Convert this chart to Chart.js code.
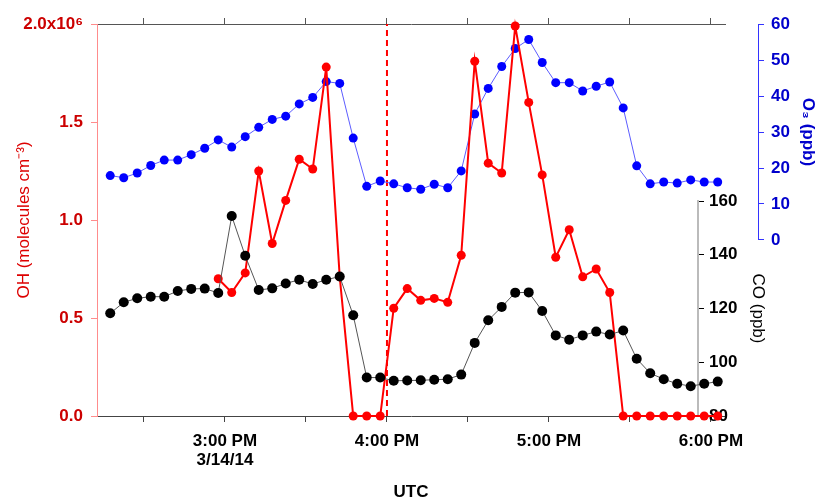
<!DOCTYPE html>
<html lang="en">
<head>
<meta charset="UTF-8">
<title>OH, O3 and CO - 3/14/14</title>
<script src="https://cdn.jsdelivr.net/npm/chart.js"></script>
<style>
    body { margin: 0; background: #ffffff; }
    #wrap { width: 818px; height: 502px; }
</style>
</head>
<body>
<div id="wrap"><canvas id="chart"></canvas></div>
<script>
    // sample times (UTC, 3/14/14), 5 minute averages
    const sampleTimes = [
        '14:17:30', '14:22:30', '14:27:30', '14:32:30', '14:37:30', '14:42:30', '14:47:30', '14:52:30',
        '14:57:30', '15:02:30', '15:07:30', '15:12:30', '15:17:30', '15:22:30', '15:27:30', '15:32:30',
        '15:37:30', '15:42:30', '15:47:30', '15:52:30', '15:57:30', '16:02:30', '16:07:30', '16:12:30',
        '16:17:30', '16:22:30', '16:27:30', '16:32:30', '16:37:30', '16:42:30', '16:47:30', '16:52:30',
        '16:57:30', '17:02:30', '17:07:30', '17:12:30', '17:17:30', '17:22:30', '17:27:30', '17:32:30',
        '17:37:30', '17:42:30', '17:47:30', '17:52:30', '17:57:30', '18:02:30'
    ];
    // OH in 10^6 molecules cm-3
    const ohValues = [
        null, null, null, null, null, null, null, null,
        0.70, 0.63, 0.73, 1.25, 0.88, 1.10, 1.31, 1.26,
        1.78, 0.71, 0, 0, 0, 0.55, 0.65, 0.59,
        0.60, 0.58, 0.82, 1.81, 1.29, 1.24, 1.99, 1.60,
        1.23, 0.81, 0.95, 0.71, 0.75, 0.63, 0, 0,
        0, 0, 0, 0, 0, 0
    ];
    const o3Values = [
        17.9, 17.3, 18.6, 20.7, 22.2, 22.2, 23.7, 25.5,
        27.8, 25.8, 28.7, 31.3, 33.5, 34.4, 37.8, 39.6,
        44.0, 43.5, 28.3, 14.9, 16.4, 15.6, 14.5, 14.1,
        15.5, 14.5, 19.2, 35.0, 42.1, 48.2, 53.2, 55.7,
        49.3, 43.7, 43.7, 41.4, 42.7, 43.9, 36.7, 20.6,
        15.6, 16.1, 15.8, 16.7, 16.1, 16.1
    ];
    const coValues = [
        118.2, 122.3, 123.8, 124.4, 124.4, 126.5, 127.3, 127.4,
        125.8, 154.4, 139.6, 126.9, 127.5, 129.3, 130.7, 129.1,
        130.7, 131.9, 117.5, 94.3, 94.3, 93.1, 93.2, 93.3,
        93.5, 93.7, 95.4, 107.2, 115.6, 120.6, 125.9, 126.0,
        119.1, 110.0, 108.4, 110.0, 111.4, 110.3, 111.8, 101.3,
        95.9, 93.7, 92.0, 91.1, 92.0, 92.8
    ];
    const timeTicks = ['14:30', '15:00', '15:30', '16:00', '16:30', '17:00', '17:30', '18:00'];
    const ohTicks = [0, 0.5, 1.0, 1.5, 2.0];
    const o3Ticks = [0, 10, 20, 30, 40, 50, 60];
    const coTicks = [80, 100, 120, 140, 160];
    const dateLabel = '3/14/14';
    const markerTime = '16:00';

    function toMinutes(s) {
        const p = s.split(':').map(Number);
        return p[0] * 60 + p[1] + (p[2] || 0) / 60;
    }

    function timeLabel(v) {
        if (v % 60 !== 0) return '';
        const h = Math.floor(v / 60);
        const text = (h > 12 ? h - 12 : h) + ':00 ' + (h >= 12 ? 'PM' : 'AM');
        return v === toMinutes(timeTicks[1]) ? [text, dateLabel] : text;
    }

    // x range of the plot frame, and the parts of the height used by the O3 / CO axes
    const xMin = toMinutes('14:12:36');
    const xMax = toMinutes('18:05:12');
    const o3Share = 216 / 392;
    const coShare = 215 / 392;
    const o3Min = 60 - 60 / o3Share;
    const coMax = 80 + 80 / coShare;

    const tickFont = { family: 'Liberation Sans', size: 17, weight: 'bold', lineHeight: 1.1 };
    const titleFont = { family: 'Liberation Sans', size: 17, lineHeight: 1.1 };
    const pick = list => scale => { scale.ticks = list.map(v => ({ value: v })); };

    // put the O3 and CO axes where they sit in the figure
    const axisPlacer = {
        id: 'axisPlacer',
        afterLayout(chart) {
            const area = chart.chartArea;
            const o3 = chart.scales.o3;
            const co = chart.scales.co;
            o3.left = area.right + 33;
            o3.right = chart.width;
            o3.width = o3.right - o3.left;
            o3.bottom = o3.getPixelForValue(0);
            o3.height = o3.bottom - o3.top;
            co.left = area.right - 27;
            co.right = co.left + 69;
            co.width = 69;
            co.top = co.getPixelForValue(160);
            co.height = co.bottom - co.top;
        }
    };

    const xy = (vals) => sampleTimes.map((t, i) => ({ x: toMinutes(t), y: vals[i] }));

    new Chart(document.getElementById('chart'), {
        type: 'line',
        data: {
            datasets: [
                {
                    label: 'CO',
                    data: xy(coValues),
                    yAxisID: 'co',
                    borderColor: '#555555',
                    borderWidth: 1,
                    pointRadius: 5,
                    pointBorderWidth: 0,
                    pointBackgroundColor: '#000000',
                    clip: false
                },
                {
                    label: 'OH',
                    data: xy(ohValues),
                    yAxisID: 'oh',
                    borderColor: '#ff0000',
                    borderWidth: 2,
                    pointRadius: 4.5,
                    pointBorderWidth: 0,
                    pointBackgroundColor: '#ff0000',
                    clip: false
                },
                {
                    label: 'O3',
                    data: xy(o3Values),
                    yAxisID: 'o3',
                    borderColor: '#5c5cff',
                    borderWidth: 1,
                    pointRadius: 4.5,
                    pointBorderWidth: 0,
                    pointBackgroundColor: '#0000ff',
                    clip: false
                },
                {
                    label: 'marker',
                    data: [{ x: toMinutes(markerTime), y: ohTicks[0] }, { x: toMinutes(markerTime), y: ohTicks[ohTicks.length - 1] }],
                    yAxisID: 'oh',
                    borderColor: '#ff0000',
                    borderWidth: 2,
                    borderDash: [6, 4],
                    pointRadius: 0
                }
            ]
        },
        options: {
            responsive: true,
            maintainAspectRatio: false,
            animation: false,
            layout: { padding: 0 },
            plugins: {
                legend: { display: false },
                tooltip: { enabled: false }
            },
            scales: {
                x: {
                    type: 'linear',
                    position: 'bottom',
                    min: xMin,
                    max: xMax,
                    afterBuildTicks: pick(timeTicks.map(toMinutes)),
                    afterFit: s => { s.height = 86; },
                    ticks: { autoSkip: false, maxRotation: 0, color: '#000', font: tickFont, padding: 10, callback: timeLabel },
                    grid: { drawOnChartArea: false, color: '#444', tickLength: 6 },
                    border: { color: '#444' },
                    title: { display: true, text: 'UTC', color: '#000', font: tickFont, padding: { top: 0, bottom: 0 } }
                },
                xTop: {
                    type: 'linear',
                    position: 'top',
                    min: xMin,
                    max: xMax,
                    afterBuildTicks: pick(timeTicks.map(toMinutes)),
                    afterFit: s => { s.height = 24; },
                    ticks: { display: false },
                    grid: { drawOnChartArea: false, color: '#555', tickLength: 6 },
                    border: { color: '#555' }
                },
                oh: {
                    type: 'linear',
                    position: 'left',
                    min: 0,
                    max: 2,
                    afterBuildTicks: pick(ohTicks),
                    afterFit: s => { s.width = 97; },
                    ticks: {
                        color: '#cc0000', font: tickFont, padding: 8,
                        callback: v => v === 2 ? '2.0x10\u2076' : v.toFixed(1)
                    },
                    grid: { drawOnChartArea: false, color: '#ff8c8c', tickLength: 6 },
                    border: { color: '#ff8c8c' },
                    title: {
                        display: true, text: 'OH (molecules cm\u207B\u00B3)', color: '#dd0000',
                        font: titleFont, padding: { top: 15, bottom: 0 }
                    }
                },
                o3: {
                    type: 'linear',
                    position: 'right',
                    min: o3Min,
                    max: 60,
                    afterBuildTicks: pick(o3Ticks),
                    afterFit: s => { s.width = 93; },
                    ticks: { color: '#0000cc', font: tickFont, padding: 7 },
                    grid: { drawOnChartArea: false, color: '#3333ff', tickLength: 6 },
                    border: { color: '#3333ff' },
                    title: {
                        display: true, text: 'O\u2083 (ppb)', color: '#0000cc',
                        font: tickFont, padding: { top: 1, bottom: 0 }
                    }
                },
                co: {
                    type: 'linear',
                    position: 'right',
                    min: 80,
                    max: coMax,
                    afterBuildTicks: pick(coTicks),
                    afterFit: s => { s.width = 0; },
                    ticks: { color: '#000', font: tickFont, padding: 5 },
                    grid: { drawOnChartArea: false, color: '#000', tickLength: 6 },
                    border: { color: '#bbbbbb', width: 2 },
                    title: {
                        display: true, text: 'CO (ppb)', color: '#000',
                        font: titleFont, padding: { top: 0, bottom: 0 }
                    }
                }
            }
        },
        plugins: [axisPlacer]
    });
</script>
</body>
</html>
